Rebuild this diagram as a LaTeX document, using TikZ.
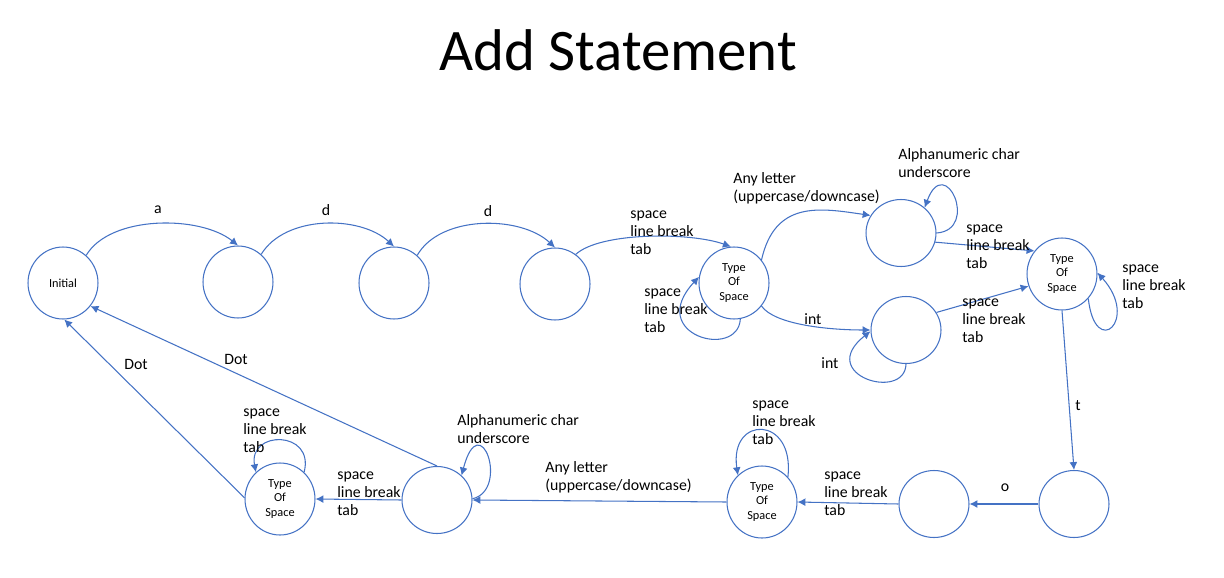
\documentclass[tikz,border=0pt]{standalone}
\usepackage{fontspec}
\setmainfont{Carlito}
\usetikzlibrary{shapes.geometric,arrows.meta}
\definecolor{stateblue}{HTML}{4472C4}
\tikzset{
  state/.style={draw=stateblue, line width=0.6pt, ellipse, minimum width=1.4cm, minimum height=1.44cm, inner sep=0pt, font=\fontsize{7}{8.5}\selectfont, align=center},
  small state/.style={state, minimum height=1.34cm},
  trans/.style={draw=stateblue, line width=0.6pt, -{Latex[length=4.5pt,width=4.5pt]}},
  lbl/.style={font=\fontsize{9}{10.3}\selectfont, align=left, inner sep=0pt},
}
\begin{document}
\begin{tikzpicture}[x=0.02cm,y=-0.02cm]
\useasboundingbox (0,0) rectangle (1224,578);
\node (title) at (618,50) {\fontsize{33.5}{40}\selectfont Add Statement};

\node[state] (ini) at (63,283) {Initial};
\node[state] (a) at (238,282) {};
\node[state] (d1) at (394,283) {};
\node[state] (d2) at (555,284) {};
\node[state] (sp1) at (734,283) {Type\\Of\\Space};
\node[small state] (id) at (901,233) {};
\node[small state] (num) at (906,330) {};
\node[state] (sp2) at (1062,274) {Type\\Of\\Space};
\node[small state] (t) at (1074,504) {};
\node[small state] (o) at (934,504) {};
\node[state] (sp3) at (762,502) {Type\\Of\\Space};
\node[small state] (nm) at (437,500) {};
\node[state] (sp4) at (280,499) {Type\\Of\\Space};

% top row
\path[trans] (ini.50) .. controls (110,215) and (200,215) .. (a.90);
\path[trans] (a.50) .. controls (285,215) and (360,215) .. (d1.90);
\path[trans] (d1.50) .. controls (440,215) and (520,215) .. (d2.90);
\path[trans] (d2.55) .. controls (600,232) and (690,232) .. (sp1.95);
\path[trans] (sp1.-80) .. controls (738,360) and (645,335) .. (sp1.170);
\path[trans] (sp1.40) .. controls (775,200) and (820,208) .. (id.150);
\path[trans] (id.0) .. controls (980,230) and (945,152) .. (id.47);
\path[trans] (id.-15) -- (sp2.140);
\path[trans] (sp1.-40) .. controls (775,325) and (830,330) .. (num.180);
\path[trans] (num.-90) .. controls (905,402) and (815,375) .. (num.182);
\path[trans] (num.30) -- (sp2.200);
\path[trans] (sp2.-43) .. controls (1095,360) and (1140,320) .. (sp2.2);

% bottom row
\path[trans] (sp2.270) -- (t.90);
\path[trans] (t.180) -- (o.0);
\path[trans] (o.180) -- (sp3.0);
\path[trans] (sp3.44) .. controls (795,415) and (729,415) .. (sp3.132);
\path[trans] (sp3.180) -- (nm.0);
\path[trans] (nm.2) .. controls (510,490) and (480,405) .. (nm.45);
\path[trans] (nm.180) -- (sp4.0);
\path[trans] (sp4.48) .. controls (315,430) and (248,430) .. (sp4.132);
\path[trans] (sp4.178) -- (ini.-88);
\path[trans] (nm.90) -- (ini.-40);

% labels
\node[lbl] (la) at (158,210) {a};
\node[lbl] (ld1) at (326,210) {d};
\node[lbl] (ld2) at (488,211) {d};
\node[lbl, anchor=west] (lsp1) at (630,233) {space\\line break\\tab};
\node[lbl, anchor=west] (lsp1loop) at (644,311) {space\\line break\\tab};
\node[lbl, anchor=west] (lletter1) at (733,188) {Any letter\\(uppercase/downcase)};
\node[lbl, anchor=west] (lalnum1) at (898,163) {Alphanumeric char\\underscore};
\node[lbl, anchor=west] (lsp2a) at (966,247) {space\\line break\\tab};
\node[lbl] (lint1) at (813,319) {int};
\node[lbl] (lint2) at (830,363) {int};
\node[lbl, anchor=west] (lsp2b) at (962,321) {space\\line break\\tab};
\node[lbl, anchor=west] (lsp2loop) at (1122,287) {space\\line break\\tab};
\node[lbl] (lt) at (1078,406) {t};
\node[lbl] (lo) at (1005,488) {o};
\node[lbl, anchor=west] (lsp3) at (824,494) {space\\line break\\tab};
\node[lbl, anchor=west] (lsp3loop) at (752,423) {space\\line break\\tab};
\node[lbl, anchor=west] (lletter2) at (545,477) {Any letter\\(uppercase/downcase)};
\node[lbl, anchor=west] (lalnum2) at (457,429) {Alphanumeric char\\underscore};
\node[lbl, anchor=west] (lsp4) at (337,494) {space\\line break\\tab};
\node[lbl, anchor=west] (lsp4loop) at (243,431) {space\\line break\\tab};
\node[lbl] (ldot1) at (136,364) {Dot};
\node[lbl] (ldot2) at (236,359) {Dot};
\end{tikzpicture}
\end{document}
